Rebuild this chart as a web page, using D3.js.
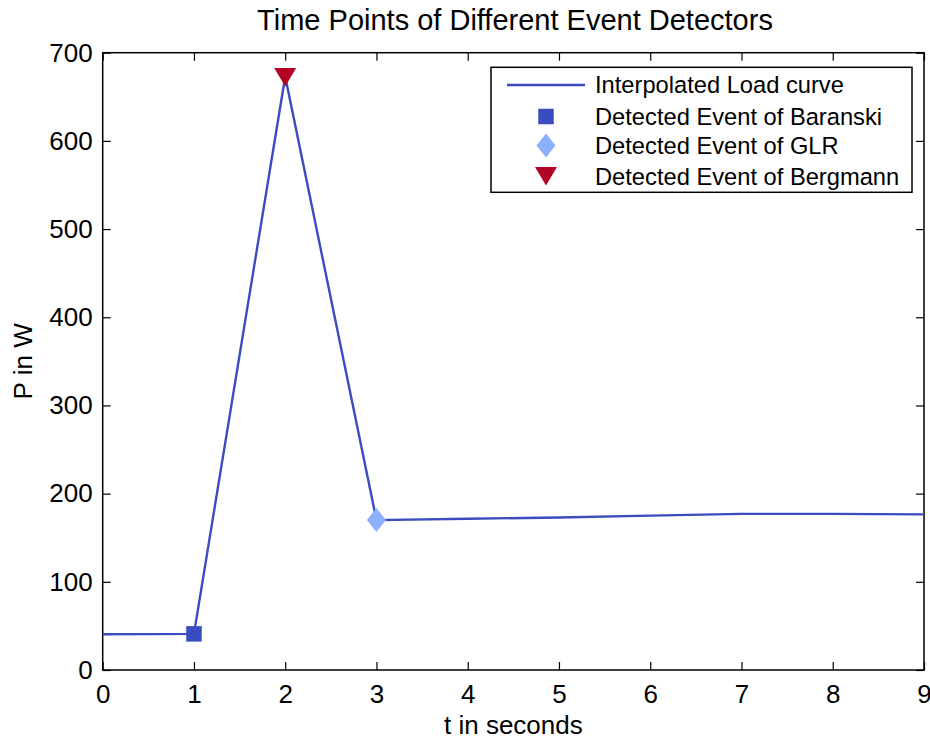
<!DOCTYPE html>
<html><head><meta charset="utf-8">
<script src="https://cdn.jsdelivr.net/npm/d3@7"></script>
<style>body{margin:0;background:#fff}svg{display:block}text{font-family:"Liberation Sans",Arial,Helvetica,sans-serif;fill:#000}</style>
</head><body><svg id="c" width="930" height="738"></svg>
<script>
const timeSec = [0, 1, 2, 3, 4, 5, 6, 7, 8, 9];
const powerW = [40.5, 41, 673, 170, 171.5, 173, 175, 177, 177, 176.5];
const baranski = [{t: 1, p: 41}];
const glr = [{t: 3, p: 170}];
const bergmann = [{t: 2, p: 673}];
const xTicks = [0,1,2,3,4,5,6,7,8,9];
const yTicks = [0,100,200,300,400,500,600,700];
const legendLabels = ["Interpolated Load curve","Detected Event of Baranski","Detected Event of GLR","Detected Event of Bergmann"];
const title = "Time Points of Different Event Detectors";

const svg = d3.select("#c");
const L=102.7, R=924, T=52.7, B=670;
const x = d3.scaleLinear().domain([0,9]).range([L,R]);
const y = d3.scaleLinear().domain([0,700]).range([B,T]);
const cLine="#3b4cc0", cSq="#3b4cc0", cDia="#8db0fe", cTri="#b40426";

// box
svg.append("rect").attr("x",L).attr("y",T).attr("width",R-L).attr("height",B-T).attr("fill","none").attr("stroke","#000").attr("stroke-width",1.5);
const tl=8;
const gx=svg.append("g").attr("transform",`translate(0,${B})`).call(d3.axisBottom(x).tickValues(xTicks).tickSizeInner(-tl).tickSizeOuter(0).tickPadding(15).tickFormat(d3.format("d")));
const gxt=svg.append("g").attr("transform",`translate(0,${T})`).call(d3.axisTop(x).tickValues(xTicks).tickSizeInner(-tl).tickSizeOuter(0).tickFormat(""));
const gy=svg.append("g").attr("transform",`translate(${L},0)`).call(d3.axisLeft(y).tickValues(yTicks).tickSizeInner(-tl).tickSizeOuter(0).tickPadding(10).tickFormat(d3.format("d")));
const gyr=svg.append("g").attr("transform",`translate(${R},0)`).call(d3.axisRight(y).tickValues(yTicks).tickSizeInner(-tl).tickSizeOuter(0).tickFormat(""));
[gx,gxt,gy,gyr].forEach(g=>{g.select(".domain").remove();g.selectAll("line").attr("stroke","#000").attr("stroke-width",1.2);g.selectAll("text").attr("font-size",26).attr("font-family","Liberation Sans, Arial, sans-serif").attr("fill","#000");});
gx.selectAll("text").attr("dy","0.71em");

// line
const line=d3.line().x((d,i)=>x(timeSec[i])).y(d=>y(d));
svg.append("path").datum(powerW).attr("d",line).attr("fill","none").attr("stroke",cLine).attr("stroke-width",2.4);

// markers
const sq=15.5;
svg.selectAll(".sq").data(baranski).join("rect").attr("x",d=>x(d.t)-sq/2).attr("y",d=>y(d.p)-sq/2).attr("width",sq).attr("height",sq).attr("fill",cSq);
const dia=(cx,cy)=>`M${cx},${cy-12}L${cx+9.5},${cy}L${cx},${cy+12}L${cx-9.5},${cy}Z`;
svg.selectAll(".dia").data(glr).join("path").attr("d",d=>dia(x(d.t),y(d.p))).attr("fill",cDia);
const tri=(cx,cy)=>`M${cx-11},${cy-8.5}L${cx+11},${cy-8.5}L${cx},${cy+10}Z`;
svg.selectAll(".tri").data(bergmann).join("path").attr("d",d=>tri(x(d.t),y(d.p))).attr("fill",cTri);

// legend
const lg=svg.append("g");
lg.append("rect").attr("x",491).attr("y",67.3).attr("width",421).attr("height",125).attr("fill","#fff").attr("stroke","#000").attr("stroke-width",1.5);
const rows=[85,116.5,145.5,176.5];
lg.append("line").attr("x1",507).attr("x2",585).attr("y1",rows[0]).attr("y2",rows[0]).attr("stroke",cLine).attr("stroke-width",2.4);
lg.append("rect").attr("x",546-sq/2).attr("y",rows[1]-sq/2).attr("width",sq).attr("height",sq).attr("fill",cSq);
lg.append("path").attr("d",dia(546,rows[2])).attr("fill",cDia);
lg.append("path").attr("d",tri(546,rows[3]-1)).attr("fill",cTri);
legendLabels.forEach((t,i)=>lg.append("text").attr("x",595).attr("y",rows[i]).attr("dy","0.35em").attr("font-size",23.7).text(t));

// titles
svg.append("text").attr("x",515).attr("y",30).attr("text-anchor","middle").attr("font-size",29).text(title);
svg.append("text").attr("x",(L+R)/2).attr("y",734).attr("text-anchor","middle").attr("font-size",26).text("t in seconds");
svg.append("text").attr("transform",`translate(32,${(T+B)/2}) rotate(-90)`).attr("text-anchor","middle").attr("font-size",26).text("P in W");
</script></body></html>
